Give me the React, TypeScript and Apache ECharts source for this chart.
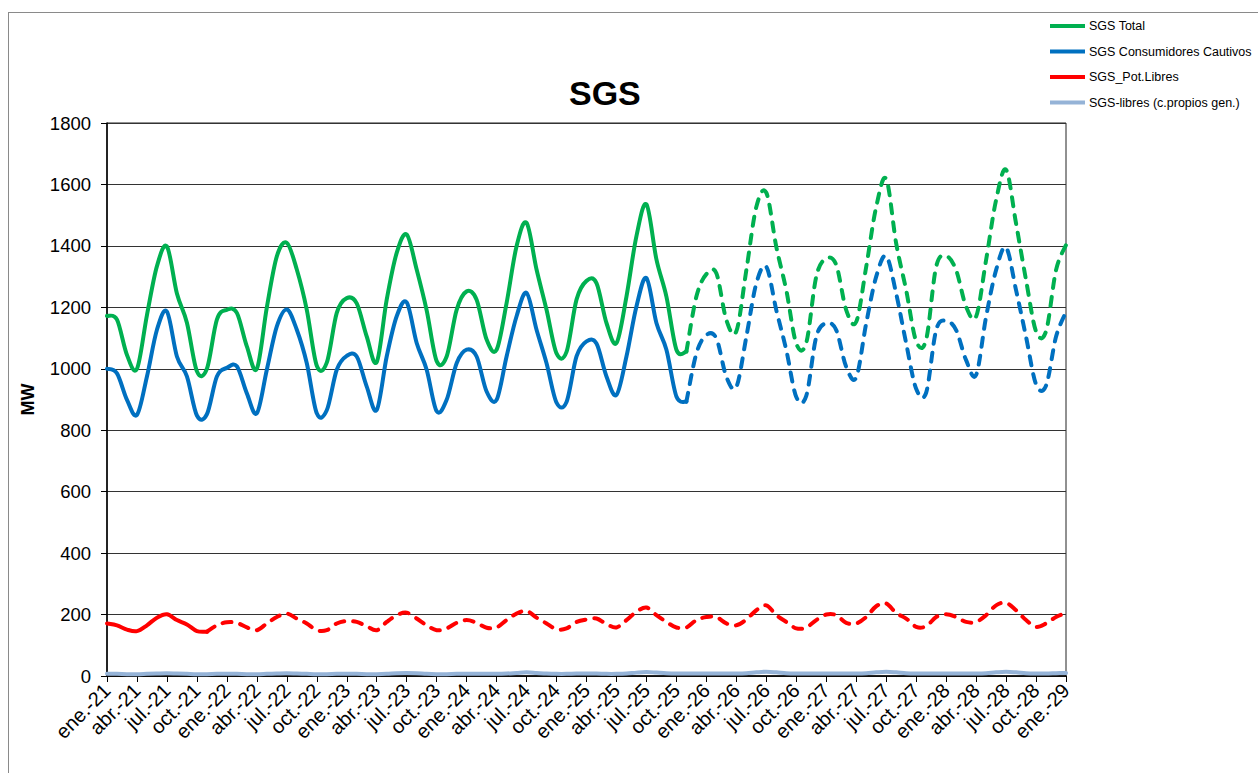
import React, { useEffect, useRef } from "react";
import * as echarts from "echarts";

const monthNames = ["ene.", "feb.", "mar.", "abr.", "may.", "jun.", "jul.", "ago.", "sep.", "oct.", "nov.", "dic."];
const years = ["21", "22", "23", "24", "25", "26", "27", "28", "29"];
const categories: string[] = [];
years.forEach((y, yi) =>
  monthNames.forEach((m, mi) => {
    if (yi < years.length - 1 || mi === 0) categories.push(`${m}-${y}`);
  })
);

const seriesNames = [
  "SGS Total",
  "SGS Consumidores Cautivos",
  "SGS_Pot.Libres",
  "SGS-libres (c.propios gen.)",
];

const sgsTotal = [
  1172, 1160, 1045, 1000, 1175, 1334, 1398, 1245, 1150, 992, 1000, 1160,
  1192, 1182, 1073, 1000, 1200, 1366, 1410, 1323, 1192, 1010, 1020, 1182,
  1230, 1213, 1105, 1022, 1225, 1377, 1437, 1323, 1190, 1025, 1040, 1192,
  1252, 1225, 1095, 1062, 1214, 1399, 1475, 1323, 1192, 1050, 1055, 1225,
  1286, 1279, 1149, 1084, 1235, 1432, 1535, 1356, 1235, 1062, 1056, 1235,
  1308, 1311, 1159, 1122, 1321, 1527, 1573, 1397, 1256, 1082, 1085, 1300,
  1359, 1338, 1191, 1153, 1332, 1527, 1618, 1408, 1256, 1090, 1095, 1332,
  1367, 1321, 1202, 1170, 1354, 1549, 1648, 1473, 1289, 1122, 1122, 1321,
  1403,
];

const sgsCautivos = [
  1000, 985, 899, 850, 975, 1127, 1186, 1040, 975, 848, 852, 975,
  1003, 1008, 920, 855, 997, 1138, 1193, 1127, 1018, 855, 865, 997,
  1042, 1040, 942, 866, 1040, 1171, 1216, 1084, 997, 862, 899, 1018,
  1062, 1040, 926, 899, 1040, 1171, 1247, 1127, 1018, 890, 892, 1040,
  1089, 1082, 975, 915, 1040, 1203, 1295, 1149, 1062, 910, 893, 1050,
  1110, 1099, 974, 941, 1104, 1278, 1332, 1191, 1061, 908, 912, 1104,
  1148, 1126, 1006, 972, 1148, 1300, 1367, 1245, 1083, 935, 922, 1126,
  1156, 1126, 1028, 980, 1169, 1321, 1395, 1256, 1104, 950, 945, 1104,
  1185,
];

const sgsPotLibres = [
  171, 165, 151, 146, 165, 190, 201, 182, 168, 146, 144, 165,
  175, 173, 158, 149, 171, 192, 203, 187, 171, 149, 149, 171,
  179, 176, 162, 149, 176, 198, 206, 187, 165, 149, 155, 173,
  182, 173, 157, 158, 182, 203, 212, 190, 171, 152, 155, 176,
  184, 187, 169, 158, 182, 209, 223, 198, 176, 158, 158, 182,
  192, 192, 171, 165, 184, 214, 230, 198, 176, 155, 158, 182,
  200, 198, 173, 171, 192, 227, 236, 205, 187, 160, 162, 192,
  201, 192, 176, 176, 198, 230, 238, 214, 182, 160, 171, 192,
  205,
];

const sgsLibresPropios = [
  7, 7, 6, 6, 7, 8, 9, 8, 7, 6, 6, 7,
  7, 7, 6, 6, 7, 8, 9, 8, 7, 6, 6, 7,
  7, 7, 6, 6, 7, 9, 10, 9, 7, 6, 6, 7,
  7, 7, 7, 7, 8, 10, 12, 10, 8, 7, 7, 8,
  8, 8, 7, 7, 8, 11, 13, 11, 9, 8, 8, 8,
  8, 8, 8, 8, 9, 12, 14, 12, 9, 8, 8, 8,
  8, 8, 8, 8, 9, 12, 14, 12, 9, 8, 8, 8,
  8, 8, 8, 8, 9, 12, 14, 12, 9, 8, 8, 9,
  10,
];

// index where actual (solid) data ends and projection (dashed) begins
const totalSplit = 58;
const libresSplit = 10;

const colors = ["#00B050", "#0070C0", "#FF0000", "#95B3D7"];
const FONT = "'Liberation Sans', Arial, sans-serif";

// Excel-like smoothing (uniform Catmull-Rom) built from axis coordinates
function smoothPath(pts: number[][]) {
  let d = `M${pts[0][0]},${pts[0][1]}`;
  for (let i = 0; i < pts.length - 1; i++) {
    const p0 = pts[i - 1] || pts[i];
    const p1 = pts[i];
    const p2 = pts[i + 1];
    const p3 = pts[i + 2] || pts[i + 1];
    const c1x = p1[0] + (p2[0] - p0[0]) / 6;
    const c1y = p1[1] + (p2[1] - p0[1]) / 6;
    const c2x = p2[0] - (p3[0] - p1[0]) / 6;
    const c2y = p2[1] - (p3[1] - p1[1]) / 6;
    d += ` C${c1x},${c1y},${c2x},${c2y},${p2[0]},${p2[1]}`;
  }
  return d;
}

function curveSeries(name: string, arr: number[], from: number, to: number, color: string, dashed: boolean, z: number) {
  const data: number[][] = [];
  for (let i = from; i <= to; i++) data.push([i, arr[i]]);
  return {
    name,
    type: "custom",
    data,
    encode: { x: 0, y: 1 },
    z,
    silent: true,
    itemStyle: { color },
    renderItem: (params: any, api: any) => {
      if (params.dataIndex !== 0) return null;
      const pts = data.map((p) => api.coord(p));
      return {
        type: "path",
        shape: { pathData: smoothPath(pts) },
        style: {
          fill: "none",
          stroke: color,
          lineWidth: 4,
          lineDash: dashed ? [9, 9] : null,
          lineCap: "round",
          lineJoin: "round",
        },
      };
    },
  };
}

export default function App() {
  const ref = useRef<HTMLDivElement>(null);

  useEffect(() => {
    if (!ref.current) return;
    const chart = echarts.init(ref.current, undefined, { renderer: "svg" });
    const last = categories.length - 1;
    chart.setOption({
      animation: false,
      textStyle: { fontFamily: FONT },
      title: {
        text: "SGS",
        left: 564,
        top: 71,
        textStyle: { fontSize: 34, fontWeight: "bold", color: "#000", fontFamily: FONT },
      },
      legend: {
        orient: "vertical",
        left: 1050,
        top: 19,
        padding: 0,
        itemWidth: 35,
        itemHeight: 4,
        itemGap: 11.5,
        icon: "rect",
        data: seriesNames,
        selectedMode: false,
        textStyle: { fontSize: 12.5, color: "#000", fontFamily: FONT, lineHeight: 14, padding: [0, 0, 0, -1] },
      },
      graphic: [
        { type: "line", shape: { x1: 8, y1: 12.5, x2: 1258, y2: 12.5 }, style: { stroke: "#8a8a8a", lineWidth: 1 } },
        { type: "line", shape: { x1: 8.5, y1: 12, x2: 8.5, y2: 773 }, style: { stroke: "#8a8a8a", lineWidth: 1 } },
      ],
      grid: {
        left: 107,
        right: 192,
        top: 123,
        bottom: 97,
        show: true,
        borderColor: "#222",
        borderWidth: 1,
        containLabel: false,
      },
      xAxis: {
        type: "category",
        data: categories,
        boundaryGap: false,
        axisLine: { lineStyle: { color: "#000", width: 1.5 } },
        axisTick: { interval: 2, length: 6, lineStyle: { color: "#000" } },
        axisLabel: { interval: 2, rotate: 45, fontSize: 20, color: "#000", margin: 11, fontFamily: FONT },
        splitLine: { show: false },
      },
      yAxis: {
        type: "value",
        min: 0,
        max: 1800,
        interval: 200,
        name: "MW",
        nameLocation: "middle",
        nameGap: 70,
        nameTextStyle: { fontWeight: "bold", fontSize: 18, color: "#000", fontFamily: FONT },
        axisLine: { show: true, lineStyle: { color: "#000", width: 1.5 } },
        axisTick: { show: true, length: 6, lineStyle: { color: "#000" } },
        axisLabel: { fontSize: 18.5, color: "#000", margin: 16, fontFamily: FONT, formatter: (v: number) => String(v) },
        splitLine: { lineStyle: { color: "#333", width: 1 } },
      },
      series: [
        curveSeries(seriesNames[0], sgsTotal, 0, totalSplit, colors[0], false, 5),
        curveSeries(seriesNames[1], sgsCautivos, 0, totalSplit, colors[1], false, 4),
        curveSeries(seriesNames[2], sgsPotLibres, 0, libresSplit, colors[2], false, 3),
        curveSeries(seriesNames[3], sgsLibresPropios, 0, last, colors[3], false, 2),
        curveSeries(seriesNames[0], sgsTotal, totalSplit, last, colors[0], true, 5),
        curveSeries(seriesNames[1], sgsCautivos, totalSplit, last, colors[1], true, 4),
        curveSeries(seriesNames[2], sgsPotLibres, libresSplit, last, colors[2], true, 3),
      ],
    });
    return () => chart.dispose();
  }, []);

  return (
    <div
      ref={ref}
      style={{ position: "fixed", left: 0, top: 0, width: 1258, height: 773, background: "#fff" }}
    />
  );
}
